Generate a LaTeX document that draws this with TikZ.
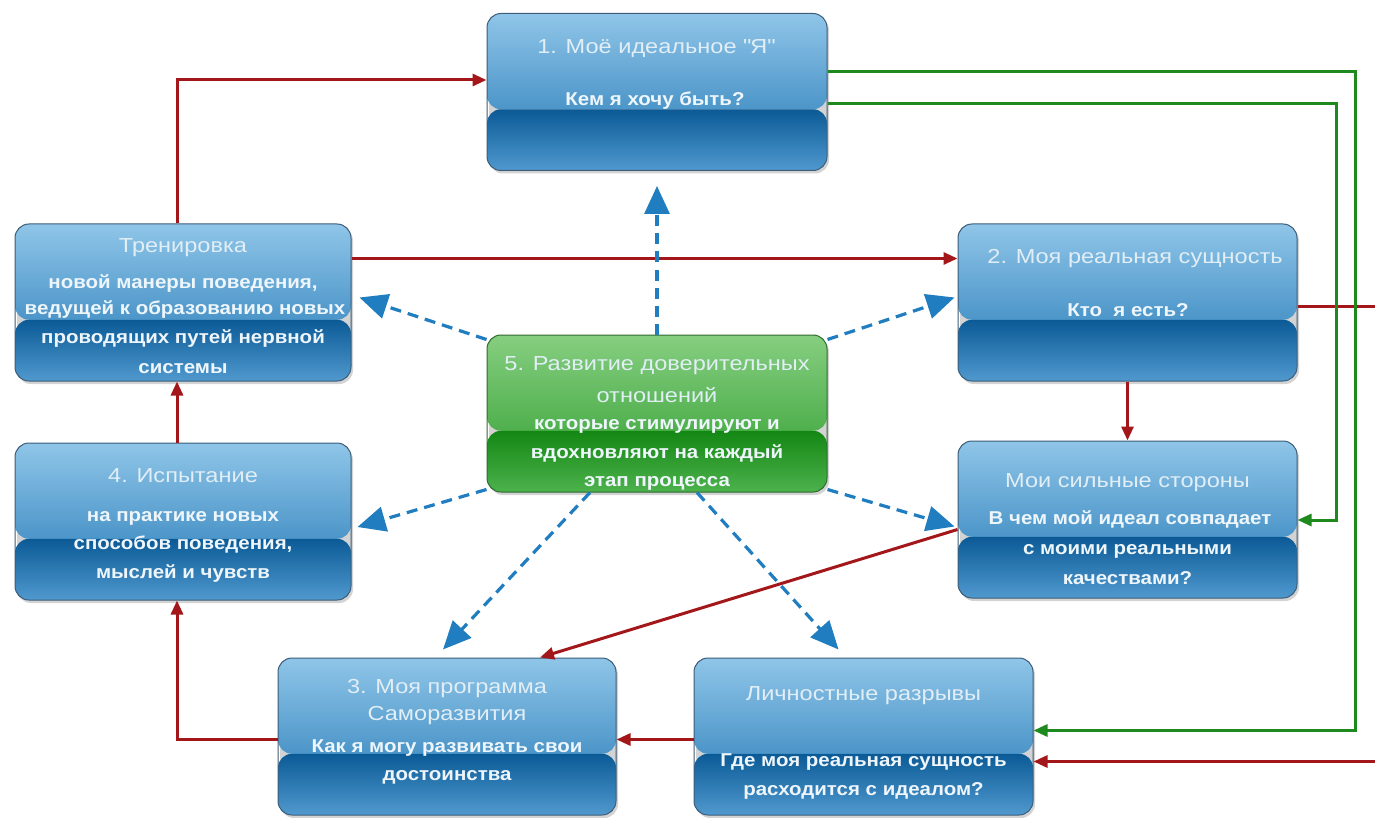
\documentclass[tikz,border=0pt]{standalone}
\usepackage{fontspec}
\setmainfont{Liberation Sans}[FakeStretch=1.16]
\newfontfamily\bodyfont{Liberation Sans}[FakeStretch=1.1]
\usetikzlibrary{arrows.meta,shadows,calc}
\definecolor{redl}{HTML}{A3171B}
\definecolor{greenl}{HTML}{1E8A1E}
\definecolor{bluel}{HTML}{3A8DCA}
\definecolor{bluetip}{HTML}{1F7DC0}
\definecolor{btop}{HTML}{8FC5E8}
\definecolor{bmid}{HTML}{2177B5}
\definecolor{bdark}{HTML}{0B5A96}
\definecolor{bbot}{HTML}{5099CF}
\definecolor{bborder}{HTML}{3C5C78}
\definecolor{gtop}{HTML}{86CE80}
\definecolor{gmid}{HTML}{2C9C2C}
\definecolor{gdark}{HTML}{138713}
\definecolor{gbot}{HTML}{4DB24D}
\definecolor{gborder}{HTML}{2F6A2F}
\definecolor{txtw}{HTML}{EEF6FB}
\definecolor{titlew}{HTML}{E2EEF6}
\tikzset{
  bluebox/.style={rounded corners=14pt, draw=bborder, line width=1pt,
    minimum width=#1, minimum height=157pt, inner sep=0pt,
    drop shadow={shadow xshift=2pt, shadow yshift=-3pt, opacity=0.35},
    path picture={
      \shade[top color=btop, bottom color=bmid] (path picture bounding box.north west) rectangle ($(path picture bounding box.north east)!0.61!(path picture bounding box.south east)$);
      \shade[top color=bdark, bottom color=bbot] ($(path picture bounding box.north west)!0.61!(path picture bounding box.south west)$) rectangle (path picture bounding box.south east);
    }},
  greenbox/.style={rounded corners=14pt, draw=gborder, line width=1pt,
    minimum width=#1, minimum height=157pt, inner sep=0pt,
    drop shadow={shadow xshift=2pt, shadow yshift=-3pt, opacity=0.35},
    path picture={
      \shade[top color=gtop, bottom color=gmid] (path picture bounding box.north west) rectangle ($(path picture bounding box.north east)!0.61!(path picture bounding box.south east)$);
      \shade[top color=gdark, bottom color=gbot] ($(path picture bounding box.north west)!0.61!(path picture bounding box.south west)$) rectangle (path picture bounding box.south east);
    }},
  txt/.style={anchor=base, inner sep=0pt, text=titlew, font=\fontsize{20.3}{24}\selectfont},
  btxt/.style={anchor=base, inner sep=0pt, text=txtw, font=\bodyfont\fontsize{18.6}{22}\selectfont\bfseries},
  redarr/.style={draw=redl, line width=3pt, -{Triangle[length=14pt,width=12pt]}},
  greenarr/.style={draw=greenl, line width=3pt, -{Triangle[length=14pt,width=12pt]}},
  bluearr/.style={draw=bluel, line width=3.2pt, dash pattern=on 11pt off 7pt, -{Triangle[length=28pt,width=25pt]}, color=bluetip}
}
\begin{document}
\begin{tikzpicture}[x=1pt,y=-1pt]
\useasboundingbox (0,0) rectangle (1375,818);

% boxes
\node[bluebox=340pt] (b1) at (657,92) {};
\node[bluebox=339pt] (b2) at (1127.5,302.5) {};
\node[bluebox=339pt] (bs) at (1127.5,519.5) {};
\node[bluebox=339pt] (bg) at (863.5,736.5) {};
\node[bluebox=338pt] (b3) at (447,736.5) {};
\node[bluebox=336pt] (b4) at (183,521.5) {};
\node[bluebox=336pt] (bt) at (183,302.5) {};
\node[greenbox=340pt] (g5) at (657,413.5) {};

% texts
\node[txt] (b1a) at (656,54) {1. Моё идеальное \textquotedbl Я\textquotedbl};
\node[btxt] (b1b) at (655,106) {Кем я хочу быть?};

\node[txt] (b2a) at (1135,264) {2. Моя реальная сущность};
\node[btxt] (b2b) at (1128,316) {Кто\ \ я есть?};

\node[txt] (bsa) at (1127.5,487) {Мои сильные стороны};
\node[btxt] (bsb) at (1130,524) {В чем мой идеал совпадает};
\node[btxt] (bsc) at (1127.5,554) {с моими реальными};
\node[btxt] (bsd) at (1127.5,584) {качествами?};

\node[txt] (bga) at (863.5,700) {Личностные разрывы};
\node[btxt] (bgb) at (863.5,766) {Где моя реальная сущность};
\node[btxt] (bgc) at (863.5,795) {расходится с идеалом?};

\node[txt] (b3a) at (447,693) {3. Моя программа};
\node[txt] (b3b) at (447,720) {Саморазвития};
\node[btxt] (b3c) at (447,752) {Как я могу развивать свои};
\node[btxt] (b3d) at (447,780) {достоинства};

\node[txt] (b4a) at (183,482) {4. Испытание};
\node[btxt] (b4b) at (183,521) {на практике новых};
\node[btxt] (b4c) at (183,549) {способов поведения,};
\node[btxt] (b4d) at (183,578) {мыслей и чувств};

\node[txt] (bta) at (183,252) {Тренировка};
\node[btxt] (btb) at (183,288) {новой манеры поведения,};
\node[btxt] (btc) at (185,314) {ведущей к образованию новых};
\node[btxt] (btd) at (183,343) {проводящих путей нервной};
\node[btxt] (bte) at (183,373) {системы};

\node[txt] (g5a) at (657,370) {5. Развитие доверительных};
\node[txt] (g5b) at (657,402) {отношений};
\node[btxt] (g5c) at (657,429) {которые стимулируют и};
\node[btxt] (g5d) at (657,458) {вдохновляют на каждый};
\node[btxt] (g5e) at (657,486) {этап процесса};

% helper coordinates
\coordinate (gA) at (1355,400);
\coordinate (gB) at (1336,400);
\coordinate (rA) at (1392,400);

% red connectors
\draw[redarr] ($(bt.north)+(-6,0)$) |- ($(b1.west)+(0,-12)$);
\draw[redarr] ($(bt.east)+(0,-44)$) -- ($(b2.west)+(0,-44)$);
\draw[redarr] ($(b4.north)+(-6,0)$) -- ($(bt.south)+(-6,0)$);
\draw[redarr] ($(b3.west)+(0,3)$) -| ($(b4.south)+(-6,0)$);
\draw[redarr] ($(bg.west)+(0,3)$) -- ($(b3.east)+(0,3)$);
\draw[redarr] (b2.south) -- (bs.north);
\draw[redarr] ($(bs.west)+(0,10)$) -- ($(b3.north)+(93,0)$);
\draw[redarr] ($(b2.east)+(0,4)$) -| (rA) |- ($(bg.east)+(0,25)$);

% green connectors
\draw[greenarr] ($(b1.east)+(0,-20)$) -| (gA) |- ($(bg.east)+(0,-6)$);
\draw[greenarr] ($(b1.east)+(0,12)$) -| (gB) |- ($(bs.east)+(0,0.5)$);

% blue dashed connectors
\draw[bluearr] (g5.north) -- ($(b1.south)+(0,15)$);
\draw[bluearr] ($(g5.north west)+(0,5)$) -- ($(bt.east)+(8,-5)$);
\draw[bluearr] ($(g5.north east)+(0,5)$) -- ($(b2.west)+(-3,-5)$);
\draw[bluearr] ($(g5.south west)+(0,-3)$) -- ($(b4.east)+(6,5.5)$);
\draw[bluearr] ($(g5.south east)+(0,-3)$) -- ($(bs.west)+(-3,7)$);
\draw[bluearr] ($(g5.south)+(-67,0)$) -- ($(b3.north)+(-4,-8)$);
\draw[bluearr] ($(g5.south)+(40,0)$) -- ($(bg.north)+(-25,-8)$);
\end{tikzpicture}
\end{document}
